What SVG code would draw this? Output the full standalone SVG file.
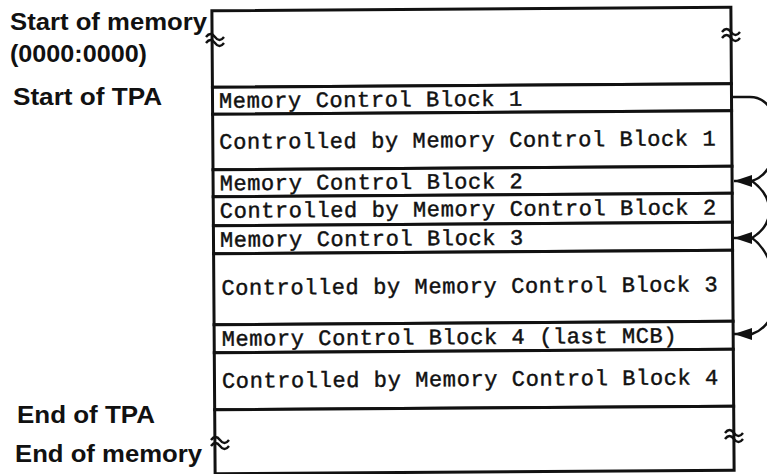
<svg xmlns="http://www.w3.org/2000/svg" width="767" height="474" viewBox="0 0 767 474">
<defs>
<marker id="ah" viewBox="0 -6 18 12" refX="18" refY="0" markerWidth="18" markerHeight="12" markerUnits="userSpaceOnUse" orient="auto"><path d="M0,-6 L18,0 L0,6 z" fill="#111"/></marker>
<g id="wv"><path class="wave" d="M-9,0 q4.5,-6 9,0 t9,0"/><path class="wave" d="M-9,6 q4.5,-6 9,0 t9,0"/></g>
</defs>
<style>
.lbl{font-family:"Liberation Sans",Arial,sans-serif;font-weight:bold;font-size:23px;fill:#111}
.mono{font-family:"Liberation Mono","Courier New",monospace;font-size:22px;letter-spacing:0.6px;fill:#111;stroke:#111;stroke-width:0.45}
.row{fill:#fff;stroke:#111;stroke-width:3}
.wave{fill:none;stroke:#111;stroke-width:2.4}
.conn{fill:none;stroke:#111;stroke-width:2.4}
</style>
<rect width="767" height="474" fill="#fff"/>
<g id="labels">
<text class="lbl" x="10" y="30" textLength="197" lengthAdjust="spacingAndGlyphs">Start of memory</text>
<text class="lbl" x="10" y="62" textLength="137" lengthAdjust="spacingAndGlyphs">(0000:0000)</text>
<text class="lbl" x="13" y="105" textLength="149" lengthAdjust="spacingAndGlyphs">Start of TPA</text>
<text class="lbl" x="17" y="423" textLength="138" lengthAdjust="spacingAndGlyphs">End of TPA</text>
<text class="lbl" x="15" y="462" textLength="187" lengthAdjust="spacingAndGlyphs">End of memory</text>
</g>
<g id="memory" transform="rotate(-0.4 472 240)">
<g id="reserved-top"><rect class="row" x="213.5" y="9" width="519" height="76.5"/></g>
<g id="mcb1"><rect class="row" x="213.5" y="85.5" width="519" height="27"/><text class="mono" x="220" y="106">Memory Control Block 1</text></g>
<g id="area1"><rect class="row" x="213.5" y="112.5" width="519" height="55.5"/><text class="mono" x="220" y="147">Controlled by Memory Control Block 1</text></g>
<g id="mcb2"><rect class="row" x="213.5" y="168" width="519" height="27"/><text class="mono" x="220" y="188.5">Memory Control Block 2</text></g>
<g id="area2"><rect class="row" x="213.5" y="195" width="519" height="29"/><text class="mono" x="220" y="216">Controlled by Memory Control Block 2</text></g>
<g id="mcb3"><rect class="row" x="213.5" y="224" width="519" height="28"/><text class="mono" x="220" y="245">Memory Control Block 3</text></g>
<g id="area3"><rect class="row" x="213.5" y="252" width="519" height="71"/><text class="mono" x="221" y="293">Controlled by Memory Control Block 3</text></g>
<g id="mcb4"><rect class="row" x="213.5" y="323" width="519" height="28"/><text class="mono" x="221" y="344">Memory Control Block 4 (last MCB)</text></g>
<g id="area4"><rect class="row" x="213.5" y="351" width="519" height="57"/><text class="mono" x="221" y="386">Controlled by Memory Control Block 4</text></g>
<g id="reserved-bottom"><rect class="row" x="213.5" y="408" width="519" height="64"/></g>
</g>
<g id="breaks">
<use href="#wv" x="215" y="37"/>
<use href="#wv" x="731" y="32"/>
<use href="#wv" x="220" y="440"/>
<use href="#wv" x="734" y="433"/>
</g>
<g id="connectors">
<path class="conn" d="M733,97 H750 C786,97 786,170 752,181 L734,181" marker-end="url(#ah)"/>
<path class="conn" d="M752,181 C775,198 775,224 752,238 L734,238" marker-end="url(#ah)"/>
<path class="conn" d="M752,238 C778,256 790,320 752,334 L734,334" marker-end="url(#ah)"/>
</g>
</svg>
